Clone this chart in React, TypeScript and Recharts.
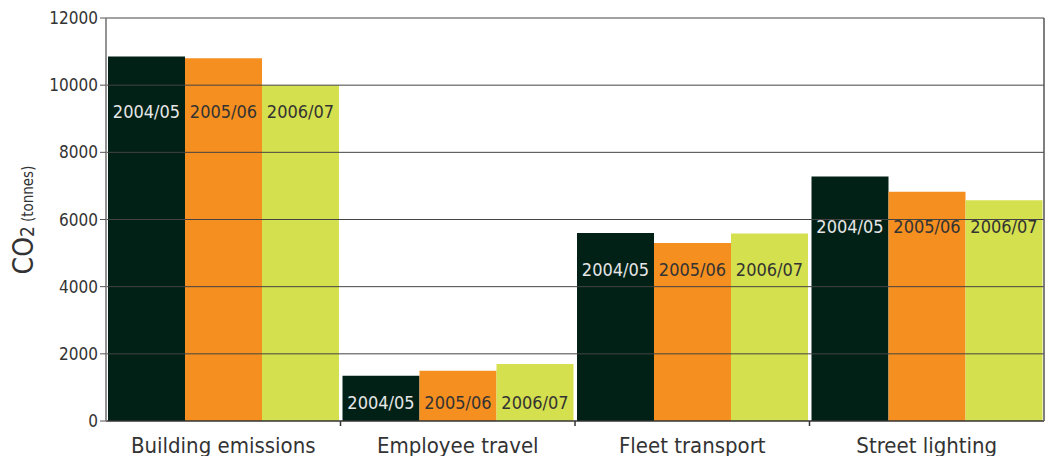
import React from 'react';
import { BarChart, Bar, XAxis, YAxis, ReferenceLine, LabelList } from 'recharts';

const categories = ['Building emissions', 'Employee travel', 'Fleet transport', 'Street lighting'];
const series2004 = [10850, 1350, 5600, 7280];
const series2005 = [10800, 1500, 5300, 6830];
const series2006 = [10000, 1700, 5580, 6570];
const seriesNames = ['2004/05', '2005/06', '2006/07'];
const yTicks = [0, 2000, 4000, 6000, 8000, 10000, 12000];

const data = categories.map((c, i) => ({
  name: c,
  s1: series2004[i],
  s2: series2005[i],
  s3: series2006[i],
}));

const FONT = '"DejaVu Sans Condensed", "DejaVu Sans", sans-serif';

const makeLabel = (text: string, color: string) => (props: any) => {
  const { x, y, width, height, value, index } = props;
  const minVal = Math.min(series2004[index], series2005[index], series2006[index]);
  const bottom = y + height;
  const minTop = bottom - (minVal * height) / value;
  return (
    <text
      x={x + width / 2}
      y={minTop + 28}
      textAnchor="middle"
      dominantBaseline="middle"
      fill={color}
      fontSize={18}
      fontFamily={FONT}
    >
      {text}
    </text>
  );
};

const TICK_SIZE = 6;
const TICK_MARGIN = 10;

const CategoryTick = (props: any) => {
  const { x, y, payload, index } = props;
  const half = payload && payload.offset ? payload.offset : 0;
  const axisY = y - TICK_SIZE - TICK_MARGIN;
  return (
    <g>
      {index > 0 && (
        <line x1={x - half} x2={x - half} y1={axisY} y2={axisY + 5} stroke="#333" strokeWidth={1.5} />
      )}
      <text x={x} y={y} dy="0.71em" textAnchor="middle" fill="#333" fontSize={22} fontFamily={FONT}>
        {payload.value}
      </text>
    </g>
  );
};

const YLabel = () => (
  <text
    transform="translate(33, 220) rotate(-90)"
    textAnchor="middle"
    fill="#333"
    fontFamily={FONT}
  >
    <tspan fontSize={28}>CO</tspan>
    <tspan fontSize={19} dy={1}>2</tspan>
    <tspan fontSize={15} dy={-1} dx={4}>(tonnes)</tspan>
  </text>
);

export default function App() {
  return (
    <div style={{ position: 'absolute', left: 0, top: 0, background: '#fff' }}>
      <BarChart
        width={1045}
        height={456}
        data={data}
        margin={{ top: 18, right: 0, left: 0, bottom: 0 }}
        barCategoryGap={2}
        barGap={0}
      >
        <XAxis
          dataKey="name"
          axisLine={{ stroke: '#333', strokeWidth: 1.5 }}
          tickLine={false}
          tick={<CategoryTick />}
          height={35}
          tickSize={TICK_SIZE}
          tickMargin={TICK_MARGIN}
          interval={0}
        />
        <YAxis
          domain={[0, 12000]}
          ticks={yTicks}
          width={106}
          axisLine={{ stroke: '#888', strokeWidth: 1.8 }}
          tickLine={{ stroke: '#555' }}
          tickSize={6}
          tick={{ fill: '#333', fontSize: 17, fontFamily: FONT }}
          tickMargin={2}
          interval={0}
        />
        <YAxis
          yAxisId="right"
          orientation="right"
          domain={[0, 12000]}
          width={1}
          tick={false}
          tickLine={false}
          axisLine={{ stroke: '#555', strokeWidth: 1.5 }}
        />
        <Bar dataKey="s1" fill="#022116" isAnimationActive={false}>
          <LabelList dataKey="s1" content={makeLabel(seriesNames[0], '#e6e6e6')} />
        </Bar>
        <Bar dataKey="s2" fill="#F58F20" isAnimationActive={false}>
          <LabelList dataKey="s2" content={makeLabel(seriesNames[1], '#333')} />
        </Bar>
        <Bar dataKey="s3" fill="#D4E04D" isAnimationActive={false}>
          <LabelList dataKey="s3" content={makeLabel(seriesNames[2], '#333')} />
        </Bar>
        {yTicks.slice(1).map((t) => (
          <ReferenceLine key={t} y={t} stroke="#444" strokeWidth={1} />
        ))}
      </BarChart>
      <svg width={1045} height={456} style={{ position: 'absolute', left: 0, top: 0, pointerEvents: 'none' }}>
        <YLabel />
      </svg>
    </div>
  );
}
